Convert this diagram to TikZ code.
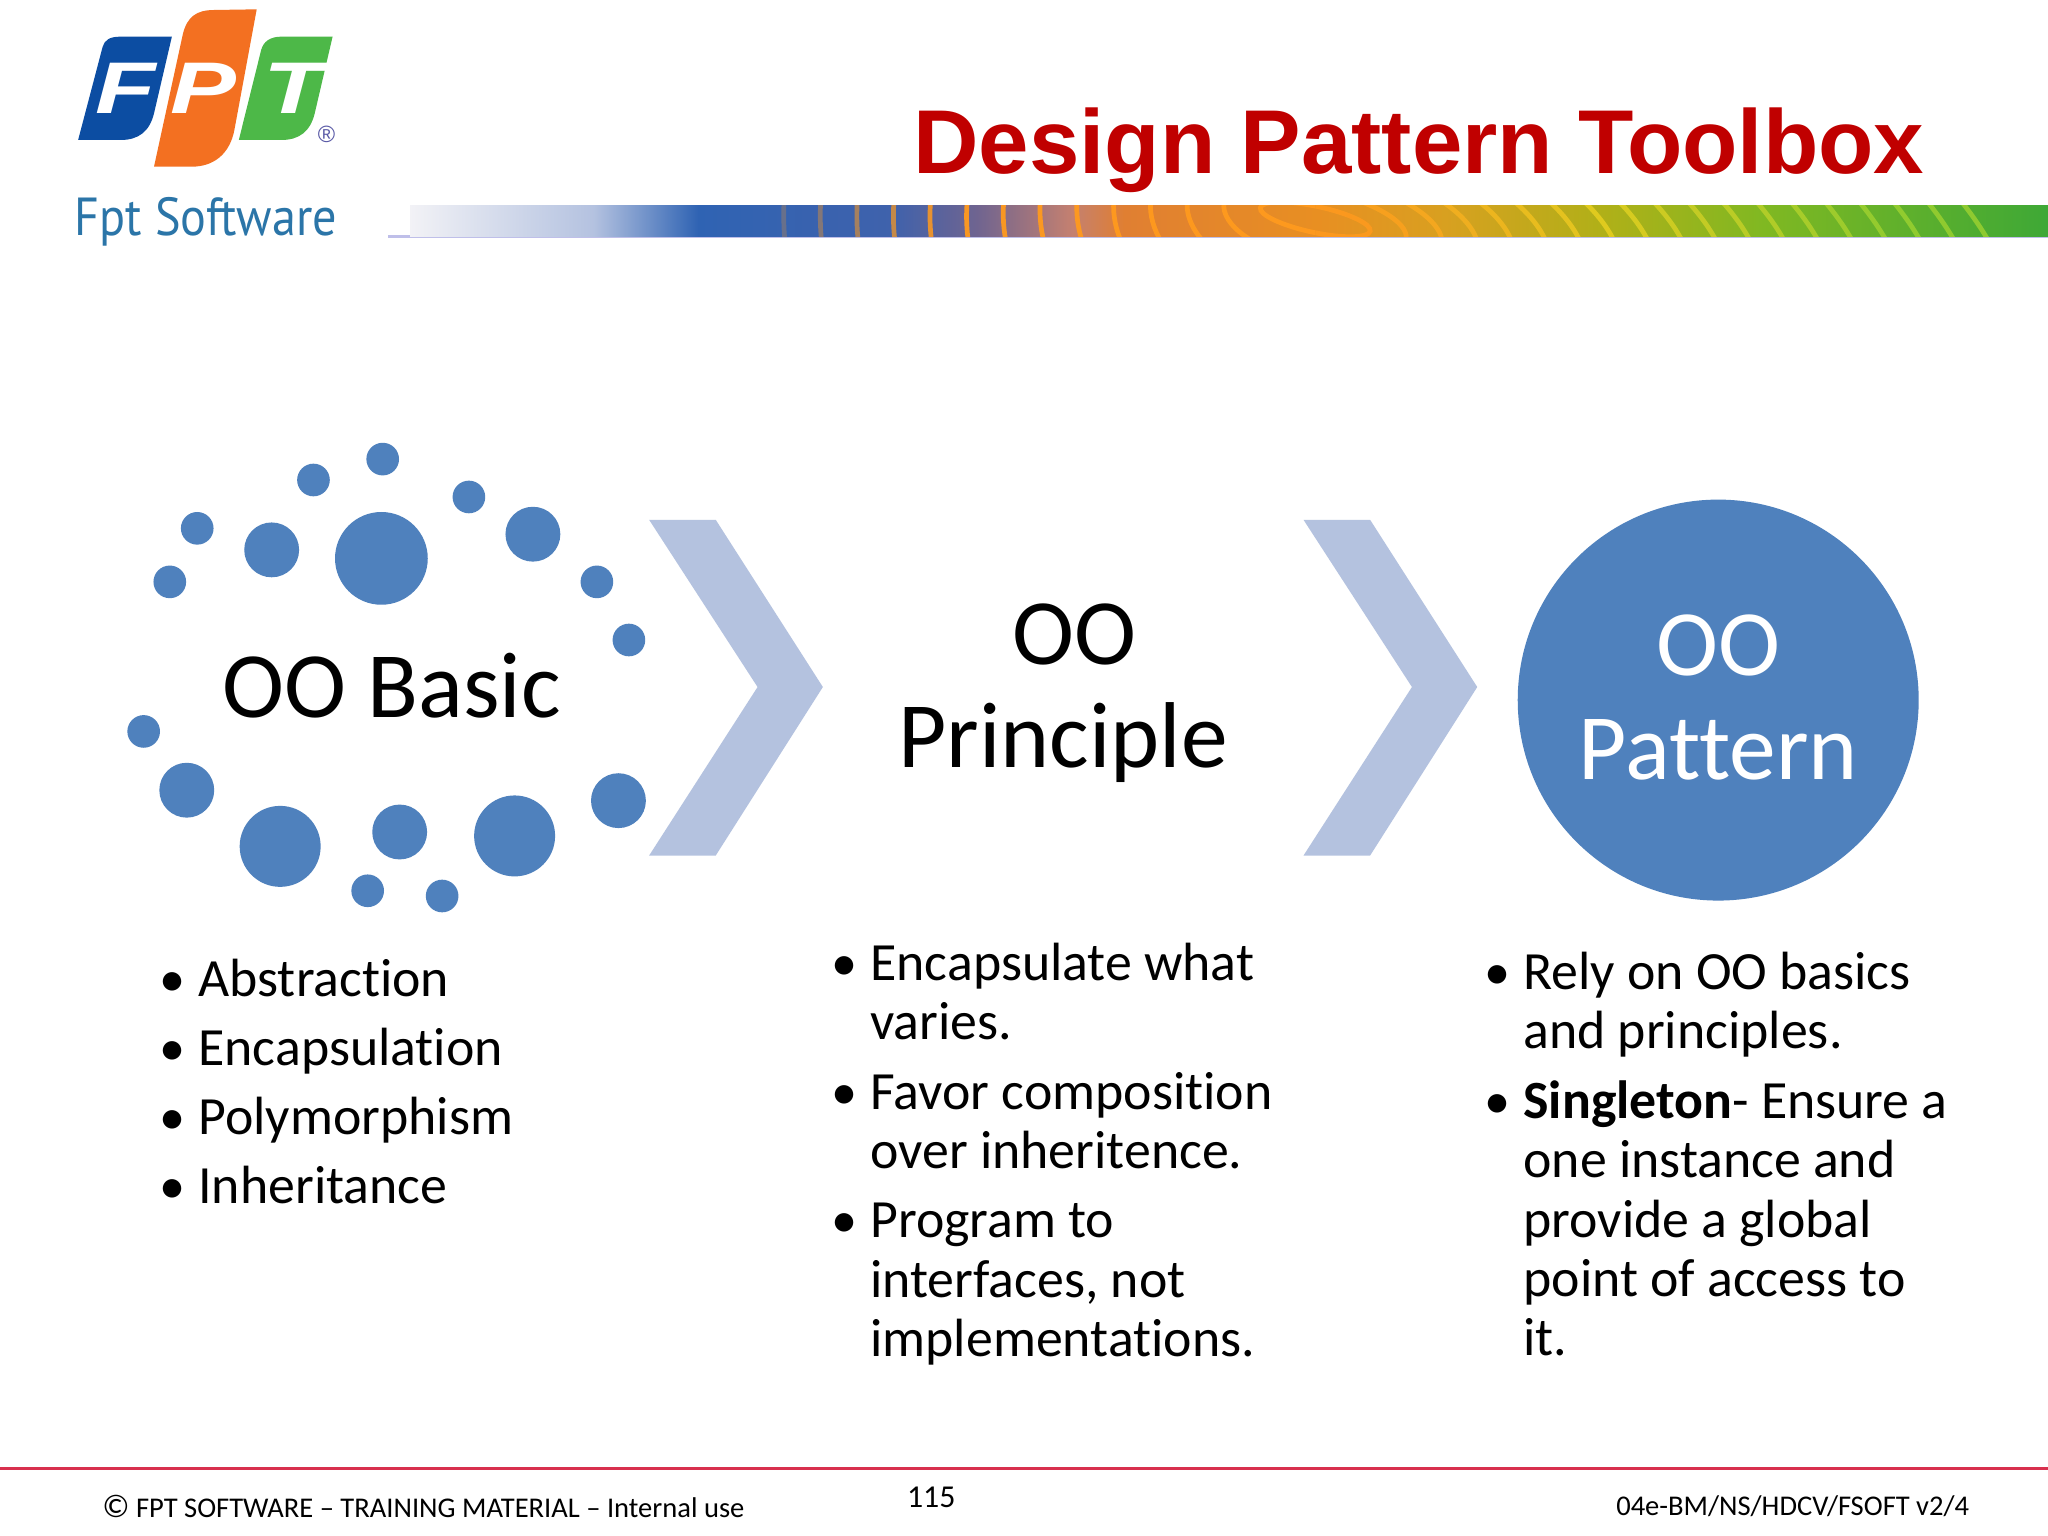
\documentclass[tikz,border=0pt]{standalone}
\usepackage{fontspec}
\setmainfont[Ligatures=NoCommon]{Carlito}
\newfontfamily\arialf{Liberation Sans}
\newfontfamily\ptf{PT Sans}
\definecolor{ooblue}{HTML}{4F81BD}
\definecolor{chev}{HTML}{B4C2DF}
\definecolor{titlered}{HTML}{C00000}
\definecolor{footred}{HTML}{D8304E}
\definecolor{logoblue}{HTML}{0C4DA2}
\definecolor{logoorange}{HTML}{F37021}
\definecolor{logogreen}{HTML}{4DB848}
\definecolor{logotext}{HTML}{2B75A8}
\definecolor{s0}{HTML}{F2F2F6}
\definecolor{s1}{HTML}{B4C2E0}
\definecolor{s2}{HTML}{2F63B3}
\definecolor{s3}{HTML}{3F62AC}
\definecolor{s4}{HTML}{6F6490}
\definecolor{s5}{HTML}{C48070}
\definecolor{s6}{HTML}{E07F32}
\definecolor{s7}{HTML}{E88F22}
\definecolor{s8}{HTML}{D8A020}
\definecolor{s9}{HTML}{B0B018}
\definecolor{s10}{HTML}{80B822}
\definecolor{s11}{HTML}{3EA836}
\definecolor{ringo}{HTML}{FF9A1E}
\definecolor{ringy}{HTML}{E8D020}
\definecolor{ringg}{HTML}{9AD030}
\pgfdeclarehorizontalshading{barshade}{100bp}{
 color(0bp)=(s0);
 color(25bp)=(s0);
 color(30.6bp)=(s1);
 color(33.8bp)=(s2);
 color(39.7bp)=(s3);
 color(42.3bp)=(s4);
 color(45.2bp)=(s5);
 color(46.8bp)=(s6);
 color(52.7bp)=(s7);
 color(56.6bp)=(s8);
 color(61.4bp)=(s9);
 color(66.3bp)=(s10);
 color(75bp)=(s11);
 color(100bp)=(s11)}
\tikzset{
 dot/.style={fill=ooblue,draw=none},
 chevron/.style={fill=chev,draw=none},
 bigtext/.style={inner sep=0pt,anchor=base,font=\fontsize{35.8}{40}\selectfont},
 bodyline/.style={anchor=base west,inner sep=0pt,font=\fontsize{20.6}{23}\selectfont,text=black},
 bullet/.style={anchor=base,inner sep=0pt,font=\fontsize{20}{23}\selectfont},
 foot/.style={inner sep=0pt,font=\fontsize{10.93}{12}\selectfont},
 ringline/.style={line width=1.8pt},
 logoletter/.style={inner sep=0pt,text=white,xscale=1.35,font=\arialf\bfseries\itshape\fontsize{28}{30}\selectfont},
}
\begin{document}
\begin{tikzpicture}[x=0.5pt,y=-0.5pt]
\useasboundingbox (0,0) rectangle (1568,1176);
\fill[white] (0,0) rectangle (1568,1176);
% logo
\begin{scope}[xscale=0.3418,yscale=0.2552]
\fill[logoblue] (230,140) .. controls (235,120) and (245,110) .. (270,110) -- (385,110) -- (345,340) .. controls (335,395) and (310,420) .. (270,420) -- (175,420) -- cycle;
\fill[logoorange] (410,100) .. controls (420,50) and (440,30) .. (480,30) -- (575,28) -- (525,390) .. controls (515,460) and (480,500) .. (430,500) -- (345,500) -- cycle;
\fill[logogreen] (585,150) .. controls (590,125) and (605,110) .. (630,110) -- (745,110) -- (705,340) .. controls (695,395) and (670,420) .. (630,420) -- (535,420) -- cycle;
\end{scope}
\node[logoletter] (lf) at (96,68) {F};
\node[logoletter] (lp) at (156,68) {P};
\node[logoletter] (lt) at (225,68) {T};
\node[inner sep=0pt,text=gray!70!blue,font=\arialf\fontsize{9}{10}\selectfont] (reg) at (250,103) {®};
\node[inner sep=0pt,text=logotext,anchor=base west,xscale=0.9,font=\ptf\fontsize{20.5}{22}\selectfont] (fptsw) at (57,180) {Fpt Software};
% title
\node[inner sep=0pt,anchor=base west,text=titlered,font=\arialf\bfseries\fontsize{34.7}{38}\selectfont] (title) at (699,133) {Design Pattern Toolbox};
% gradient bar
\fill[black!35!blue!25!white] (297,180) rectangle (1568,182);
\shade[shading=barshade] (314,157) rectangle (1568,181);
\begin{scope}
\clip (585,157) rectangle (1568,181);
\foreach \k in {0,...,18}{
 \pgfmathsetmacro\rx{43+28*\k}
 \pgfmathsetmacro\ry{10+13*\k}
 \pgfmathsetmacro\ryl{10+22*\k}
 \pgfmathsetmacro\rot{-max(1,12-1.4*\k)}
 \pgfmathtruncatemacro\mixa{min(100,\k*14)}
 \pgfmathtruncatemacro\mixb{max(0,min(100,(\k-7)*12))}
 \colorlet{rc}{ringy!\mixa!ringo}
 \colorlet{rcc}{ringg!\mixb!rc}
 \begin{scope}
  \clip (1007,150) rectangle (1568,190);
  \draw[ringline,color=rcc,opacity=.85] (1007,168) ellipse [x radius=\rx, y radius=\ry, rotate=-12];
 \end{scope}
 \begin{scope}
  \clip (585,150) rectangle (1007,190);
  \pgfmathsetmacro\op{max(.25,min(.95,2.3-\k*0.16))}
  \draw[ringline,color=ringo,opacity=\op] (1007,168) ellipse [x radius=\rx, y radius=\ryl, rotate=\rot];
 \end{scope}
}
\end{scope}
% dots
\foreach \n/\cx/\cy/\r in {d1/293/351.5/12.5,d2/240/367.5/12.5,d3/359/380.5/12.5,d4/151/404.5/12.5,d5/208/421/21,d6/292/427.5/35.5,d7/408/409/21,d8/130/445.5/12.5,d9/457/445.5/12.5,d10/481.5/490/12.5,d11/110/560/12.5,d12/143/605/21,d13/214.5/648/31,d14/306/637/21,d15/394/640/31,d16/473.5/613/21,d17/281.5/682/12.5,d18/338.5/686/12.5}{
 \node[dot,circle,minimum size=\r pt,inner sep=0pt] (\n) at (\cx,\cy) {};
}
% chevrons
\fill[chevron] (497,398) -- (548,398) -- (630,526) -- (548,655) -- (497,655) -- (580,526) -- cycle;
\fill[chevron] (998,398) -- (1049,398) -- (1131,526) -- (1049,655) -- (998,655) -- (1081,526) -- cycle;
% big circle
\node[circle,fill=ooblue,minimum size=153.5pt,inner sep=0pt] (patc) at (1315.5,536) {};
% big text
\node[bigtext] (basic) at (300,549) {OO Basic};
\node[bigtext] (pr1) at (822.5,508.5) {OO};
\node[bigtext] (pr2) at (814,587.5) {Principle};
\node[bigtext,text=white] (pa1) at (1315.5,517) {OO};
\node[bigtext,text=white] (pa2) at (1315.5,597) {Pattern};
% column 1
\foreach \n/\y/\t in {a/762.7/Abstraction,b/815.7/Encapsulation,c/868.7/Polymorphism,e/921.7/Inheritance}{
 \node[bullet] (b\n) at (132,\y) {•};
 \node[bodyline] (t\n) at (151.5,\y) {\t};
}
% column 2
\foreach \n/\y in {f/750.5,g/849.5,h/947.5}{\node[bullet] (b\n) at (646.5,\y) {•};}
\foreach \n/\y/\t in {f1/750.5/Encapsulate what,f2/795.5/varies.,g1/849.5/Favor composition,g2/894.5/over inheritence.,h1/947.5/Program to,h2/993.5/{interfaces, not},h3/1038.5/implementations.}{
 \node[bodyline] (t\n) at (666,\y) {\t};
}
% column 3
\foreach \n/\y in {i/757.5,j/856}{\node[bullet] (b\n) at (1146.5,\y) {•};}
\foreach \n/\y/\t in {i1/757.5/Rely on OO basics,i2/802.5/and principles.,j1/856/{\textbf{Singleton}- Ensure a},j2/901.5/one instance and,j3/947.5/provide a global,j4/992.5/point of access to,j5/1038/it.}{
 \node[bodyline] (t\n) at (1166,\y) {\t};
}
% footer
\draw[footred,line width=1.2pt] (0,1124) -- (1568,1124);
\node[foot,anchor=base west] (fa) at (78,1162) {\fontsize{12.5}{13}\selectfont ©\fontsize{10.93}{12}\selectfont{} FPT SOFTWARE – TRAINING MATERIAL – Internal use};
\node[foot,anchor=base,font=\fontsize{12.2}{13}\selectfont] (fb) at (713,1154) {115};
\node[foot,anchor=base east] (fc) at (1508,1160) {04e-BM/NS/HDCV/FSOFT v2/4};
\end{tikzpicture}
\end{document}
